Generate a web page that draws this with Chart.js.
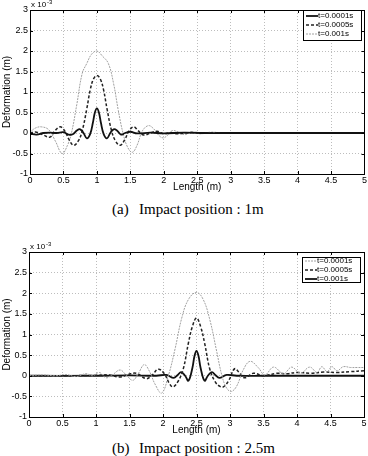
<!DOCTYPE html>
<html>
<head>
<meta charset="utf-8">
<script src="https://cdn.jsdelivr.net/npm/chart.js@4.4.1/dist/chart.umd.min.js"></script>
<style>
  body { margin: 0; background: #fff; width: 368px; height: 456px; position: relative; overflow: hidden; }
  .box { position: absolute; left: 0; width: 368px; height: 200px; }
  .cap { position: absolute; font-family: "Liberation Serif", serif; font-size: 15px; color: #000; white-space: pre; line-height: 16px; }
</style>
</head>
<body>
<div class="box" style="top:0"><canvas id="chartA" width="368" height="200"></canvas></div>
<div class="cap" style="top:201px;left:112px">(a)</div>
<div class="cap" style="top:201px;left:139px">Impact position : 1m</div>
<div class="box" style="top:240px"><canvas id="chartB" width="368" height="200"></canvas></div>
<div class="cap" style="top:440px;left:112px">(b)</div>
<div class="cap" style="top:440px;left:139px">Impact position : 2.5m</div>
<script>
// values in units of 1e-3 m (axis shows "x 10^-3")
const yMin = -1, yMax = 3, yStep = 0.5;
const xMin = 0, xMax = 5, xStep = 0.5;

// (a) impact at 1 m
const legendA = ['t=0.0001s', 't=0.0005s', 't=0.001s'];
const aSolidX = [0, 0.1, 0.2, 0.3, 0.4, 0.5, 0.58, 0.64, 0.7, 0.75, 0.8, 0.85, 0.9, 0.94, 0.97, 1.0, 1.03, 1.06, 1.1, 1.15, 1.2, 1.25, 1.3, 1.36, 1.42, 1.5, 1.6, 1.8, 2.0, 2.3, 2.6, 3, 3.5, 4, 4.5, 5];
const aSolidY = [-0.02, -0.04, 0.0, 0.01, 0.0, 0.02, -0.04, -0.03, 0.06, 0.09, 0.0, -0.13, -0.02, 0.25, 0.5, 0.6, 0.5, 0.25, -0.02, -0.13, 0.0, 0.09, 0.06, -0.04, 0.0, 0.03, -0.01, 0.01, -0.01, 0.01, 0, 0, 0, 0, 0, 0];
const aDashX = [0, 0.1, 0.2, 0.3, 0.37, 0.45, 0.52, 0.58, 0.65, 0.72, 0.78, 0.85, 0.9, 0.95, 1.0, 1.05, 1.1, 1.15, 1.22, 1.28, 1.35, 1.42, 1.48, 1.55, 1.62, 1.7, 1.8, 1.9, 2.0, 2.1, 2.2, 2.4, 2.6, 3, 3.5, 4, 4.5, 5];
const aDashY = [0, 0.02, -0.05, -0.1, 0.05, 0.15, 0.05, -0.15, -0.3, -0.2, 0.05, 0.6, 1.05, 1.32, 1.4, 1.32, 1.05, 0.6, 0.05, -0.2, -0.3, -0.15, 0.05, 0.15, 0.05, -0.05, 0.0, 0.04, -0.02, 0.01, -0.02, 0.01, 0, 0, 0, 0, 0, 0];
const aDotX = [0, 0.08, 0.17, 0.28, 0.38, 0.48, 0.56, 0.62, 0.7, 0.78, 0.85, 0.92, 1.0, 1.08, 1.17, 1.25, 1.32, 1.39, 1.46, 1.53, 1.6, 1.68, 1.77, 1.85, 1.92, 1.99, 2.06, 2.13, 2.22, 2.32, 2.42, 2.55, 2.7, 2.9, 3.2, 3.5, 4, 4.5, 5];
const aDotY = [0.02, 0.12, 0.15, 0.08, -0.2, -0.5, -0.3, 0.0, 0.7, 1.45, 1.7, 1.92, 2.0, 1.88, 1.7, 1.2, 0.55, 0.0, -0.35, -0.47, -0.3, 0.05, 0.18, 0.1, -0.05, -0.12, -0.05, 0.06, 0.02, -0.04, 0.03, -0.02, 0.02, 0.0, 0.01, 0, 0, 0, 0];

// (b) impact at 2.5 m
const legendB = ['t=0.0001s', 't=0.0005s', 't=0.001s'];
const bDotX = [0, 0.2, 0.4, 0.55, 0.7, 0.85, 0.95, 1.05, 1.15, 1.25, 1.36, 1.45, 1.55, 1.63, 1.72, 1.8, 1.88, 1.98, 2.08, 2.18, 2.28, 2.38, 2.5, 2.6, 2.7, 2.8, 2.88, 2.95, 3.02, 3.1, 3.2, 3.3, 3.42, 3.52, 3.65, 3.8, 3.92, 4.05, 4.19, 4.3, 4.37, 4.45, 4.52, 4.6, 4.69, 4.8, 4.9, 5];
const bDotY = [0, 0.02, 0.0, 0.03, -0.02, 0.05, 0.0, 0.08, -0.05, 0.03, 0.14, 0.02, -0.11, 0.05, 0.27, 0.1, -0.2, -0.42, 0.0, 0.65, 1.4, 1.85, 2.02, 1.85, 1.35, 0.6, 0.0, -0.3, -0.38, -0.25, 0.15, 0.35, 0.2, 0.02, 0.21, 0.05, 0.21, 0.06, 0.21, 0.08, 0.22, 0.1, 0.22, 0.12, 0.22, 0.2, 0.2, 0.2];
const bDashX = [0, 0.5, 1.0, 1.2, 1.35, 1.48, 1.6, 1.75, 1.84, 1.93, 2.02, 2.1, 2.15, 2.22, 2.3, 2.38, 2.44, 2.5, 2.56, 2.62, 2.7, 2.78, 2.85, 2.9, 2.98, 3.07, 3.15, 3.22, 3.35, 3.5, 3.7, 3.85, 4.0, 4.2, 4.4, 4.6, 4.8, 5];
const bDashY = [0, 0, 0.01, 0.02, -0.03, 0.03, 0.06, -0.07, 0.02, 0.16, 0.05, -0.2, -0.27, -0.15, 0.15, 0.8, 1.2, 1.4, 1.2, 0.8, 0.15, -0.15, -0.26, -0.27, -0.12, 0.17, 0.05, -0.05, 0.06, 0.0, 0.06, 0.05, 0.08, 0.06, 0.09, 0.08, 0.1, 0.12];
const bSolidX = [0, 1, 1.5, 1.9, 2.05, 2.16, 2.22, 2.27, 2.33, 2.38, 2.44, 2.47, 2.5, 2.53, 2.56, 2.62, 2.67, 2.73, 2.78, 2.84, 2.95, 3.1, 3.5, 4, 4.5, 5];
const bSolidY = [0, 0, 0.01, 0, 0.02, -0.05, 0.02, 0.09, 0.0, -0.12, 0.2, 0.48, 0.6, 0.48, 0.2, -0.12, 0.0, 0.09, 0.02, -0.05, 0.02, 0, 0, 0, 0, 0];

const SOLID = { borderColor: '#111', borderWidth: 1.8, borderDash: [] };
const DASH = { borderColor: '#222', borderWidth: 1.5, borderDash: [3, 2] };
const DOT = { borderColor: '#a0a0a0', borderWidth: 1, borderDash: [2, 1] };

function pts(xs, ys) {
  return xs.map((x, i) => ({ x: x, y: ys[i] }));
}

function ds(label, xs, ys, style) {
  return Object.assign({
    label: label,
    data: pts(xs, ys),
    pointRadius: 0,
    fill: false,
    tension: 0.4
  }, style);
}

// frame, inner ticks, exponent and legend like the matlab figure
const framePlugin = {
  id: 'frame',
  afterDraw(chart, args, opts) {
    const ctx = chart.ctx;
    const a = chart.chartArea;
    ctx.save();
    ctx.strokeStyle = '#000';
    ctx.lineWidth = 1;
    ctx.setLineDash([]);
    ctx.strokeRect(Math.round(a.left) + 0.5, Math.round(a.top) + 0.5, Math.round(a.right - a.left), Math.round(a.bottom - a.top));
    ctx.beginPath();
    chart.scales.x.ticks.forEach(t => {
      const px = Math.round(chart.scales.x.getPixelForValue(t.value)) + 0.5;
      ctx.moveTo(px, a.bottom); ctx.lineTo(px, a.bottom - 3);
      ctx.moveTo(px, a.top); ctx.lineTo(px, a.top + 3);
    });
    chart.scales.y.ticks.forEach(t => {
      const py = Math.round(chart.scales.y.getPixelForValue(t.value)) + 0.5;
      ctx.moveTo(a.left, py); ctx.lineTo(a.left + 3, py);
      ctx.moveTo(a.right, py); ctx.lineTo(a.right - 3, py);
    });
    ctx.stroke();

    // exponent
    ctx.fillStyle = '#000';
    ctx.textBaseline = 'middle';
    ctx.font = '8px "Liberation Sans", Arial, sans-serif';
    ctx.fillText('x 10', a.left + 1, a.top - 5);
    ctx.font = '6px "Liberation Sans", Arial, sans-serif';
    ctx.fillText('-3', a.left + 17, a.top - 8);

    // legend
    const L = opts.box;
    ctx.fillStyle = '#fff';
    ctx.fillRect(L.x, L.y, L.w, L.h);
    ctx.strokeRect(L.x + 0.5, L.y + 0.5, L.w, L.h);
    ctx.font = '8px "Liberation Sans", Arial, sans-serif';
    chart.data.datasets.forEach((d, i) => {
      const y = L.y + L.first + i * L.row;
      ctx.strokeStyle = d.borderColor;
      ctx.lineWidth = d.borderWidth;
      ctx.setLineDash(d.borderDash || []);
      ctx.beginPath();
      ctx.moveTo(L.x + 3, y); ctx.lineTo(L.x + 15, y);
      ctx.stroke();
      ctx.setLineDash([]);
      ctx.fillStyle = '#000';
      ctx.fillText(d.label, L.x + 15, y);
    });
    ctx.restore();
  }
};

function makeChart(id, datasets, pad, xH, yW, titlePad, box) {
  return new Chart(document.getElementById(id).getContext('2d'), {
    type: 'line',
    data: { datasets: datasets },
    plugins: [framePlugin],
    options: {
      responsive: false,
      animation: false,
      devicePixelRatio: 1,
      layout: { padding: pad },
      plugins: { legend: { display: false }, tooltip: { enabled: false }, frame: { box: box } },
      scales: {
        x: {
          type: 'linear', min: xMin, max: xMax,
          afterFit: s => { s.height = xH; },
          grid: { color: '#bdbdbd', drawTicks: false },
          border: { display: true, color: '#000', dash: [1, 2] },
          ticks: {
            stepSize: xStep, autoSkip: false, maxRotation: 0, padding: 1, color: '#000',
            font: { family: '"Liberation Sans", Arial, sans-serif', size: 9 },
            callback: v => String(Math.round(v * 10) / 10)
          },
          title: {
            display: true, text: 'Length (m)', color: '#000',
            font: { family: '"Liberation Sans", Arial, sans-serif', size: 10, lineHeight: 1.2 },
            padding: { top: 0, bottom: titlePad }
          }
        },
        y: {
          min: yMin, max: yMax,
          afterFit: s => { s.width = yW; },
          grid: { color: '#bdbdbd', drawTicks: false },
          border: { display: true, color: '#000', dash: [1, 2] },
          ticks: {
            stepSize: yStep, autoSkip: false, padding: 2, color: '#000',
            font: { family: '"Liberation Sans", Arial, sans-serif', size: 9 },
            callback: v => String(Math.round(v * 10) / 10)
          },
          title: {
            display: true, text: 'Deformation (m)', color: '#000',
            font: { family: '"Liberation Sans", Arial, sans-serif', size: 10, lineHeight: 1.2 },
            padding: { top: 1, bottom: 0 }
          }
        }
      }
    }
  });
}

makeChart('chartA', [
  ds(legendA[0], aSolidX, aSolidY, SOLID),
  ds(legendA[1], aDashX, aDashY, DASH),
  ds(legendA[2], aDotX, aDotY, DOT)
], { top: 10, right: 1, left: 0, bottom: 0 }, 26, 30, 7, { x: 303, y: 10, w: 58, h: 30, first: 6, row: 9 });

makeChart('chartB', [
  ds(legendB[0], bDotX, bDotY, DOT),
  ds(legendB[1], bDashX, bDashY, DASH),
  ds(legendB[2], bSolidX, bSolidY, SOLID)
], { top: 12, right: 4, left: 0, bottom: 0 }, 23, 29, 4, { x: 302, y: 17, w: 58, h: 25, first: 4, row: 9 });
</script>
</body>
</html>
